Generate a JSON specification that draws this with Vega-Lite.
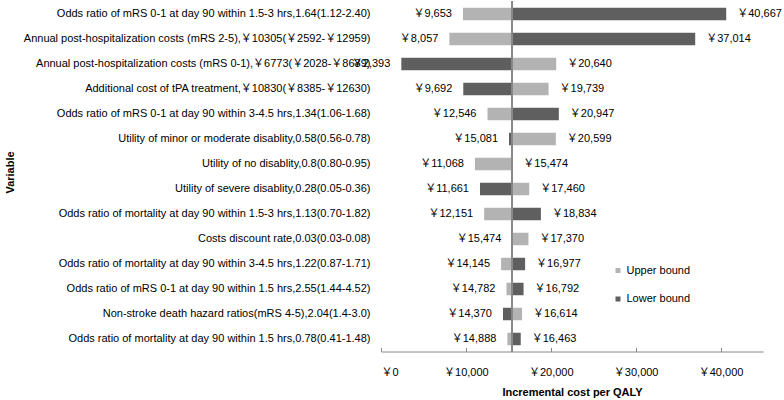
{
  "$schema": "https://vega.github.io/schema/vega-lite/v6.json",
  "autosize": "none",
  "width": 382,
  "height": 350,
  "padding": {"left": 381, "top": 1.5, "right": 21, "bottom": 48.5},
  "background": "white",
  "config": {
    "view": {"stroke": null},
    "font": "Liberation Sans, Arial, Noto Sans CJK SC",
    "locale": {"number": {"decimal": ".", "thousands": ",", "grouping": [3], "currency": ["￥", ""]}}
  },
  "data": {
    "values": [
      {"variable": "Odds ratio of mRS 0-1 at day 90 within 1.5-3 hrs,1.64(1.12-2.40)", "bound": "Upper bound", "value": 9653},
      {"variable": "Odds ratio of mRS 0-1 at day 90 within 1.5-3 hrs,1.64(1.12-2.40)", "bound": "Lower bound", "value": 40667},
      {"variable": "Annual post-hospitalization costs (mRS 2-5),￥10305(￥2592-￥12959)", "bound": "Upper bound", "value": 8057},
      {"variable": "Annual post-hospitalization costs (mRS 2-5),￥10305(￥2592-￥12959)", "bound": "Lower bound", "value": 37014},
      {"variable": "Annual post-hospitalization costs (mRS 0-1),￥6773(￥2028-￥8639)", "bound": "Upper bound", "value": 20640},
      {"variable": "Annual post-hospitalization costs (mRS 0-1),￥6773(￥2028-￥8639)", "bound": "Lower bound", "value": 2393},
      {"variable": "Additional cost of tPA treatment,￥10830(￥8385-￥12630)", "bound": "Upper bound", "value": 19739},
      {"variable": "Additional cost of tPA treatment,￥10830(￥8385-￥12630)", "bound": "Lower bound", "value": 9692},
      {"variable": "Odds ratio of mRS 0-1 at day 90 within 3-4.5 hrs,1.34(1.06-1.68)", "bound": "Upper bound", "value": 12546},
      {"variable": "Odds ratio of mRS 0-1 at day 90 within 3-4.5 hrs,1.34(1.06-1.68)", "bound": "Lower bound", "value": 20947},
      {"variable": "Utility of minor or moderate disablity,0.58(0.56-0.78)", "bound": "Upper bound", "value": 20599},
      {"variable": "Utility of minor or moderate disablity,0.58(0.56-0.78)", "bound": "Lower bound", "value": 15081},
      {"variable": "Utility of no disablity,0.8(0.80-0.95)", "bound": "Upper bound", "value": 11068},
      {"variable": "Utility of no disablity,0.8(0.80-0.95)", "bound": "Lower bound", "value": 15474},
      {"variable": "Utility of severe disablity,0.28(0.05-0.36)", "bound": "Upper bound", "value": 17460},
      {"variable": "Utility of severe disablity,0.28(0.05-0.36)", "bound": "Lower bound", "value": 11661},
      {"variable": "Odds ratio of mortality at day 90 within 1.5-3 hrs,1.13(0.70-1.82)", "bound": "Upper bound", "value": 12151},
      {"variable": "Odds ratio of mortality at day 90 within 1.5-3 hrs,1.13(0.70-1.82)", "bound": "Lower bound", "value": 18834},
      {"variable": "Costs discount rate,0.03(0.03-0.08)", "bound": "Upper bound", "value": 17370},
      {"variable": "Costs discount rate,0.03(0.03-0.08)", "bound": "Lower bound", "value": 15474},
      {"variable": "Odds ratio of mortality at day 90 within 3-4.5 hrs,1.22(0.87-1.71)", "bound": "Upper bound", "value": 14145},
      {"variable": "Odds ratio of mortality at day 90 within 3-4.5 hrs,1.22(0.87-1.71)", "bound": "Lower bound", "value": 16977},
      {"variable": "Odds ratio of mRS 0-1 at day 90 within 1.5 hrs,2.55(1.44-4.52)", "bound": "Upper bound", "value": 14782},
      {"variable": "Odds ratio of mRS 0-1 at day 90 within 1.5 hrs,2.55(1.44-4.52)", "bound": "Lower bound", "value": 16792},
      {"variable": "Non-stroke death hazard ratios(mRS 4-5),2.04(1.4-3.0)", "bound": "Upper bound", "value": 16614},
      {"variable": "Non-stroke death hazard ratios(mRS 4-5),2.04(1.4-3.0)", "bound": "Lower bound", "value": 14370},
      {"variable": "Odds ratio of mortality at day 90 within 1.5 hrs,0.78(0.41-1.48)", "bound": "Upper bound", "value": 14888},
      {"variable": "Odds ratio of mortality at day 90 within 1.5 hrs,0.78(0.41-1.48)", "bound": "Lower bound", "value": 16463}
    ]
  },
  "transform": [
    {"joinaggregate": [{"op": "min", "field": "value", "as": "minv"}, {"op": "max", "field": "value", "as": "maxv"}], "groupby": ["variable"]}
  ],
  "encoding": {
    "y": {
      "field": "variable", "type": "nominal", "sort": null,
      "scale": {"paddingInner": 0.5, "paddingOuter": 0.25},
      "axis": {
        "title": "Variable", "titleFontSize": 11, "titleFontWeight": "bold", "titleColor": "#000",
        "titleX": -371, "titleY": 170.5, "titleAngle": -90, "titleAlign": "center", "titleBaseline": "middle",
        "domain": false, "ticks": false, "labelPadding": 11, "labelLimit": 400,
        "labelFontSize": 11, "labelColor": "#000"
      }
    }
  },
  "layer": [
    {
      "mark": {"type": "bar"},
      "encoding": {
        "x": {
          "field": "value", "type": "quantitative",
          "scale": {"domain": [0, 45000], "nice": false, "zero": false},
          "axis": {
            "title": "Incremental  cost per QALY", "titleFontSize": 11, "titleFontWeight": "bold", "titleColor": "#000",
            "titleY": 40.5, "titleBaseline": "middle",
            "values": [0, 10000, 20000, 30000, 40000], "format": "$,.0f",
            "grid": false, "domainColor": "#888", "tickColor": "#888", "tickSize": -4,
            "labelPadding": 19, "labelFontSize": 11, "labelColor": "#000"
          }
        },
        "x2": {"datum": 15474},
        "color": {
          "field": "bound", "type": "nominal",
          "scale": {"domain": ["Upper bound", "Lower bound"], "range": ["#b3b3b3", "#5f5f5f"]},
          "legend": {
            "title": null, "orient": "none", "legendX": 231.5, "legendY": 263.5,
            "symbolType": "square", "symbolSize": 25, "symbolStrokeWidth": 0,
            "labelFontSize": 11, "labelColor": "#000", "labelOffset": 3, "rowPadding": 16.5, "padding": 0
          }
        }
      }
    },
    {
      "mark": {"type": "rule", "color": "#888", "strokeWidth": 1},
      "encoding": {"x": {"datum": 15474, "type": "quantitative"}, "y": null}
    },
    {
      "transform": [{"filter": "datum.value == datum.minv"}],
      "mark": {"type": "text", "align": "right", "dx": -11, "fontSize": 11, "color": "#000"},
      "encoding": {
        "x": {"field": "value", "type": "quantitative"},
        "text": {"field": "value", "type": "quantitative", "format": "$,.0f"}
      }
    },
    {
      "transform": [{"filter": "datum.value == datum.maxv"}],
      "mark": {"type": "text", "align": "left", "dx": 11, "fontSize": 11, "color": "#000"},
      "encoding": {
        "x": {"field": "value", "type": "quantitative"},
        "text": {"field": "value", "type": "quantitative", "format": "$,.0f"}
      }
    }
  ]
}
